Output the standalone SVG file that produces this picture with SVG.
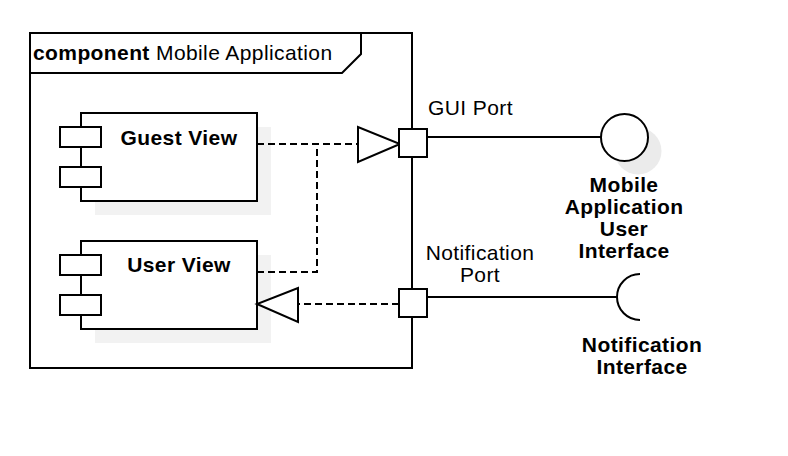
<svg xmlns="http://www.w3.org/2000/svg" width="788" height="456" viewBox="0 0 788 456">
<style>
.ln{stroke:#000;stroke-width:2;fill:none}
.box{stroke:#000;stroke-width:2;fill:#fff}
.sh{fill:#f2f2f2;stroke:none}
.dash{stroke:#000;stroke-width:2;fill:none;stroke-dasharray:7 4}
.t{font-family:"Liberation Sans",Arial,sans-serif;font-size:21px;letter-spacing:0.4px;fill:#000}
.b{font-weight:bold}
.m{text-anchor:middle}
</style>
<rect width="788" height="456" fill="#fff"/>
<g id="frame">
<rect x="30" y="33" width="382" height="335" class="ln"/>
<path d="M30,73 H342 L361,54 V33" class="ln"/>
<text x="33" y="60" class="t"><tspan class="b">component</tspan> Mobile Application</text>
</g>
<g id="guest-view">
<rect x="95" y="127" width="176" height="88" class="sh"/>
<rect x="81" y="113" width="176" height="88" class="box"/>
<rect x="60" y="127" width="41" height="20" class="box"/>
<rect x="60" y="167" width="41" height="20" class="box"/>
<text x="179" y="145" class="t b m">Guest View</text>
</g>
<g id="user-view">
<rect x="95" y="255" width="176" height="88" class="sh"/>
<rect x="81" y="241" width="176" height="88" class="box"/>
<rect x="60" y="255" width="41" height="20" class="box"/>
<rect x="60" y="295" width="41" height="20" class="box"/>
<text x="179" y="272" class="t b m">User View</text>
</g>
<g id="connectors">
<path d="M257,144 H358" class="dash"/>
<path d="M257,272 H317 V144" class="dash"/>
<polygon points="358,127 358,162 400,144" class="box"/>
<path d="M399,304 H298" class="dash"/>
<polygon points="298,288 298,322 257,304" class="box"/>
<path d="M427,137 H601" class="ln"/>
<path d="M427,297 H617" class="ln"/>
</g>
<g id="gui-port">
<rect x="399" y="129" width="28" height="28" class="box"/>
<text x="428" y="115" class="t">GUI Port</text>
</g>
<g id="notification-port">
<rect x="399" y="289" width="28" height="28" class="box"/>
<text x="480" y="260" class="t m">Notification</text>
<text x="480" y="282" class="t m">Port</text>
</g>
<g id="mobile-app-ui">
<circle cx="638" cy="151" r="23.5" fill="#ebebeb"/>
<circle cx="624.5" cy="137.5" r="23.5" class="box"/>
<text x="624" y="192" class="t b m">Mobile</text>
<text x="624" y="214" class="t b m">Application</text>
<text x="624" y="236" class="t b m">User</text>
<text x="624" y="258" class="t b m">Interface</text>
</g>
<g id="notification-interface">
<path d="M640,274 A23,23 0 0 0 640,320" class="ln"/>
<text x="642" y="352" class="t b m">Notification</text>
<text x="642" y="373.5" class="t b m">Interface</text>
</g>
</svg>
